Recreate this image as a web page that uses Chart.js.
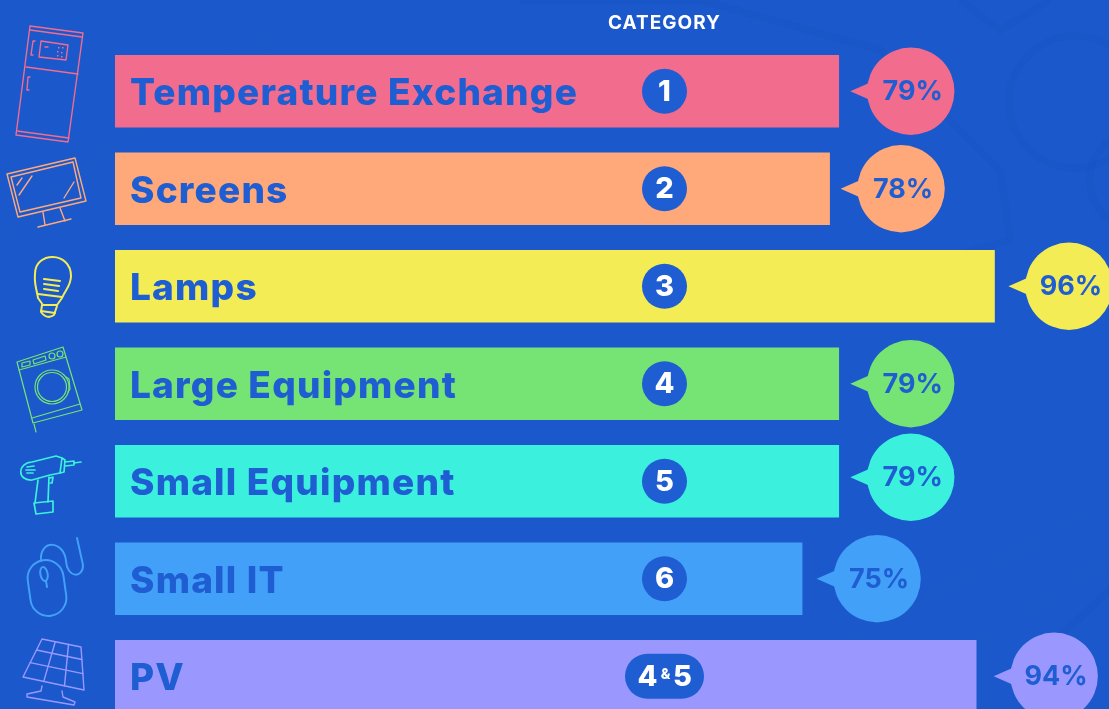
<!DOCTYPE html>
<html>
<head>
<meta charset="utf-8">
<title>Category collection rates</title>
<script src="https://cdn.jsdelivr.net/npm/chart.js@4"></script>
<style>
  html, body { margin: 0; padding: 0; background: #1a58cb; overflow: hidden; }
  #wrap { width: 1109px; height: 709px; overflow: hidden; }
  canvas { display: block; }
</style>
</head>
<body>
<div id="wrap"><canvas id="rateChart" width="1109" height="730"></canvas></div>
<script>
// Chart data
const categories = ['Temperature Exchange', 'Screens', 'Lamps', 'Large Equipment', 'Small Equipment', 'Small IT', 'PV'];
const rates = [79, 78, 96, 79, 79, 75, 94];
const categoryNumbers = ['1', '2', '3', '4', '5', '6', '4&5'];
const barColors = ['#f16c8d', '#ffa97a', '#f3ec55', '#76e375', '#3bf0dc', '#42a0f8', '#9a98ff'];

const blue = '#1f5dd2';
const fontName = 'Inter, "Open Sans", sans-serif';

// How far each speech bubble sits from the end of its bar
const bubbleGapX = [72, 71.5, 74.5, 72, 72, 75, 78];
const bubbleGapY = [0, 0, 0, 0, -4, 0, 0];

function poly(ctx, pts, close) {
    ctx.beginPath();
    pts.forEach((p, i) => (i ? ctx.lineTo(p[0], p[1]) : ctx.moveTo(p[0], p[1])));
    if (close) ctx.closePath();
    ctx.stroke();
}

// Outline icons to the left of the bars
const icons = [
    function fridge(ctx) {
        poly(ctx, [[30, 26], [83, 33], [68, 142], [16, 135]], true);
        poly(ctx, [[30, 30], [82, 37]]);
        poly(ctx, [[26, 67], [78, 74]]);
        poly(ctx, [[17, 131], [69, 138]]);
        poly(ctx, [[41, 41], [68, 45], [66, 60], [39, 57]], true);
        poly(ctx, [[35, 41], [33, 41], [31, 55], [33, 55]]);
        poly(ctx, [[30, 77], [28, 77], [27, 90], [29, 90]]);
        poly(ctx, [[45, 47], [48, 47]]);
        [[58, 47], [62, 47], [57, 51], [61, 52], [57, 55], [61, 56]].forEach(d => ctx.fillRect(d[0], d[1], 1.5, 1.5));
    },
    function monitor(ctx) {
        poly(ctx, [[7, 174], [75, 158], [86, 201], [18, 217]], true);
        poly(ctx, [[11, 177], [73, 162], [81, 198], [20, 212]], true);
        poly(ctx, [[43, 212], [45, 225]]);
        poly(ctx, [[60, 208], [65, 221]]);
        poly(ctx, [[38, 227], [71, 219]]);
        poly(ctx, [[17, 185], [22, 178]]);
        poly(ctx, [[19, 195], [32, 176]]);
        poly(ctx, [[64, 198], [74, 182]]);
    },
    function lamp(ctx) {
        ctx.lineWidth = 2;
        ctx.beginPath();
        ctx.moveTo(43, 305);
        ctx.lineTo(38, 298);
        ctx.bezierCurveTo(37, 290, 34, 285, 35, 274);
        ctx.bezierCurveTo(35, 251, 71, 251, 71, 276);
        ctx.bezierCurveTo(71, 286, 65, 290, 62, 298);
        ctx.lineTo(57, 305);
        ctx.closePath();
        ctx.stroke();
        poly(ctx, [[38, 294], [62, 297]]);
        poly(ctx, [[44, 279], [60, 281]]);
        poly(ctx, [[44, 284], [59, 286]]);
        poly(ctx, [[44, 289], [58, 291]]);
        ctx.beginPath();
        ctx.moveTo(42, 305);
        ctx.lineTo(41, 312);
        ctx.quadraticCurveTo(47, 320, 54, 315);
        ctx.lineTo(57, 306);
        ctx.stroke();
        poly(ctx, [[41, 311], [55, 313]]);
    },
    function washer(ctx) {
        ctx.lineWidth = 1.2;
        poly(ctx, [[17, 362], [63, 347], [82, 410], [33, 423]], true);
        poly(ctx, [[19, 370], [66, 357]]);
        poly(ctx, [[32, 418], [80, 404]]);
        poly(ctx, [[34, 424], [36, 432]]);
        poly(ctx, [[22, 363], [30, 361], [30, 365], [22, 367]], true);
        poly(ctx, [[33, 360], [45, 356], [46, 360], [34, 364]], true);
        ctx.beginPath(); ctx.arc(52, 356, 3, 0, Math.PI * 2); ctx.stroke();
        ctx.beginPath(); ctx.arc(60, 354, 3, 0, Math.PI * 2); ctx.stroke();
        ctx.beginPath(); ctx.arc(52, 387, 17, 0, Math.PI * 2); ctx.stroke();
        ctx.beginPath(); ctx.arc(52, 387, 14.5, 0, Math.PI * 2); ctx.stroke();
        poly(ctx, [[66, 377], [69, 379], [70, 389], [68, 392]]);
    },
    function drill(ctx) {
        ctx.lineWidth = 1.7;
        ctx.beginPath();
        ctx.moveTo(32, 462);
        ctx.lineTo(56, 456);
        ctx.lineTo(62, 458);
        ctx.lineTo(60, 473);
        ctx.lineTo(50, 475);
        ctx.lineTo(32, 480);
        ctx.bezierCurveTo(17, 481, 17, 463, 32, 462);
        ctx.stroke();
        poly(ctx, [[38, 480], [35, 503]]);
        poly(ctx, [[49, 477], [48, 502]]);
        poly(ctx, [[34, 503], [53, 501], [53, 512], [36, 514]], true);
        poly(ctx, [[62, 458], [65, 460], [64, 472], [60, 473]]);
        poly(ctx, [[65, 462], [74, 461], [74, 465], [65, 466]]);
        poly(ctx, [[74, 463], [81, 462]]);
        poly(ctx, [[27, 467], [34, 466]]);
        poly(ctx, [[26, 470], [35, 470]]);
        poly(ctx, [[27, 473], [33, 473]]);
        poly(ctx, [[50, 478], [53, 477], [52, 483], [50, 483]]);
    },
    function mouse(ctx) {
        ctx.lineWidth = 2;
        ctx.save();
        ctx.translate(47, 588);
        ctx.rotate(-0.14);
        ctx.beginPath();
        ctx.roundRect(-18, -28, 36, 56, 18);
        ctx.stroke();
        ctx.restore();
        ctx.beginPath();
        ctx.ellipse(44, 574, 3.6, 7, -0.2, 0, Math.PI * 2);
        ctx.stroke();
        poly(ctx, [[46, 581], [47, 587]]);
        ctx.beginPath();
        ctx.moveTo(41, 561);
        ctx.bezierCurveTo(39, 539, 64, 540, 66, 561);
        ctx.bezierCurveTo(67, 578, 83, 579, 83, 565);
        ctx.lineTo(77, 538);
        ctx.stroke();
    },
    function solar(ctx) {
        const tl = [42, 639], tr = [81, 647], br = [84, 690], bl = [23, 677];
        poly(ctx, [tl, tr, br, bl], true);
        const mix = (a, b, t) => [a[0] + (b[0] - a[0]) * t, a[1] + (b[1] - a[1]) * t];
        [0.29, 0.62].forEach(t => poly(ctx, [mix(tl, bl, t), mix(tr, br, t)]));
        [0.34, 0.68].forEach(t => poly(ctx, [mix(tl, tr, t), mix(bl, br, t)]));
        poly(ctx, [[42, 686], [41, 691], [27, 694], [27, 697], [74, 705], [75, 702], [63, 697], [62, 691]]);
    }
];

// Faint shapes behind everything
const backgroundPlugin = {
    id: 'backgroundPattern',
    beforeDraw(chart) {
        const ctx = chart.ctx;
        ctx.save();
        ctx.fillStyle = '#1a58cb';
        ctx.fillRect(0, 0, chart.width, chart.height);
        ctx.strokeStyle = 'rgba(20, 70, 180, 0.1)';
        ctx.lineWidth = 7;
        ctx.beginPath(); ctx.arc(1075, 102, 66, 0, Math.PI * 2); ctx.stroke();
        ctx.beginPath(); ctx.arc(1140, 180, 50, 0, Math.PI * 2); ctx.stroke();
        poly(ctx, [[520, 0], [700, 0], [880, 50], [1000, 170], [1010, 240], [800, 300]]);
        poly(ctx, [[960, 0], [1000, 30], [1050, 0]]);
        ctx.beginPath(); ctx.arc(760, 260, 480, 0.1, 0.9); ctx.stroke();
        ctx.strokeStyle = 'rgba(60, 110, 220, 0.05)';
        ctx.lineWidth = 14;
        poly(ctx, [[0, 240], [120, 140], [280, 30]]);
        poly(ctx, [[850, 640], [1109, 500]]);
        poly(ctx, [[920, 680], [1109, 560]]);
        ctx.restore();
        // wider tracking for the axis labels, the overlay plugin resets it
        ctx.letterSpacing = '1.2px';
    }
};

// Icons, numbered badges and percentage bubbles
const overlayPlugin = {
    id: 'overlays',
    afterDraw(chart) {
        const ctx = chart.ctx;
        const bars = chart.getDatasetMeta(0).data;
        const badgeX = 664.5;
        ctx.letterSpacing = '0px';
        ctx.save();
        ctx.lineJoin = 'round';
        ctx.lineCap = 'round';
        icons.forEach((draw, i) => {
            ctx.strokeStyle = barColors[i];
            ctx.fillStyle = barColors[i];
            ctx.lineWidth = 1.4;
            draw(ctx);
        });
        ctx.textAlign = 'center';
        ctx.textBaseline = 'middle';
        bars.forEach((bar, i) => {
            // speech bubble
            const cx = bar.x + bubbleGapX[i];
            const cy = bar.y + bubbleGapY[i];
            ctx.fillStyle = barColors[i];
            ctx.beginPath();
            ctx.arc(cx, cy, 43.7, 0, Math.PI * 2);
            ctx.fill();
            ctx.beginPath();
            ctx.moveTo(cx - 60.5, cy);
            ctx.lineTo(cx - 40, cy - 9);
            ctx.lineTo(cx - 40, cy + 9);
            ctx.closePath();
            ctx.fill();
            ctx.fillStyle = blue;
            ctx.font = '700 27px ' + fontName;
            ctx.fillText(rates[i] + '%', cx + 2, cy + 1);

            // category badge
            const parts = categoryNumbers[i].split('&');
            ctx.fillStyle = blue;
            ctx.beginPath();
            if (parts.length > 1) {
                ctx.roundRect(badgeX - 39.5, bar.y - 22.5, 79, 45, 22.5);
            } else {
                ctx.arc(badgeX, bar.y, 22.5, 0, Math.PI * 2);
            }
            ctx.fill();
            ctx.fillStyle = '#ffffff';
            ctx.font = '800 29px ' + fontName;
            if (parts.length > 1) {
                ctx.fillText(parts[0], badgeX - 17, bar.y + 1);
                ctx.fillText(parts[1], badgeX + 18, bar.y + 1);
                ctx.font = '800 14px ' + fontName;
                ctx.fillText('&', badgeX + 1, bar.y - 1);
            } else {
                ctx.fillText(parts[0], badgeX, bar.y + 1);
            }
        });
        ctx.fillStyle = '#ffffff';
        ctx.font = '700 19px ' + fontName;
        ctx.letterSpacing = '1px';
        ctx.fillText('CATEGORY', badgeX, 23);
        ctx.restore();
    }
};

const ctx = document.getElementById('rateChart').getContext('2d');

// Create the chart
const rateChart = new Chart(ctx, {
    type: 'bar',
    data: {
        labels: categories,
        datasets: [{
            data: rates,
            backgroundColor: barColors,
            borderWidth: 0,
            barThickness: 72,
        }],
    },
    options: {
        indexAxis: 'y',
        responsive: false,
        animation: false,
        layout: {
            padding: { left: 115, right: 0, top: 42.5, bottom: 5 },
        },
        plugins: {
            legend: { display: false },
            tooltip: { enabled: false },
        },
        scales: {
            x: {
                display: false,
                min: 0,
                max: 108.5,
            },
            y: {
                grid: { display: false },
                border: { display: false },
                // the labels sit inside the bars, so the axis takes up no room
                afterFit(scale) {
                    scale.width = 0;
                    scale.paddingTop = 0;
                    scale.paddingBottom = 0;
                },
                ticks: {
                    z: 1,
                    mirror: true,
                    padding: 15,
                    labelOffset: 3,
                    autoSkip: false,
                    color: blue,
                    font: { family: fontName, size: 37, weight: '800' },
                },
            },
        },
    },
    plugins: [backgroundPlugin, overlayPlugin],
});
</script>
</body>
</html>
